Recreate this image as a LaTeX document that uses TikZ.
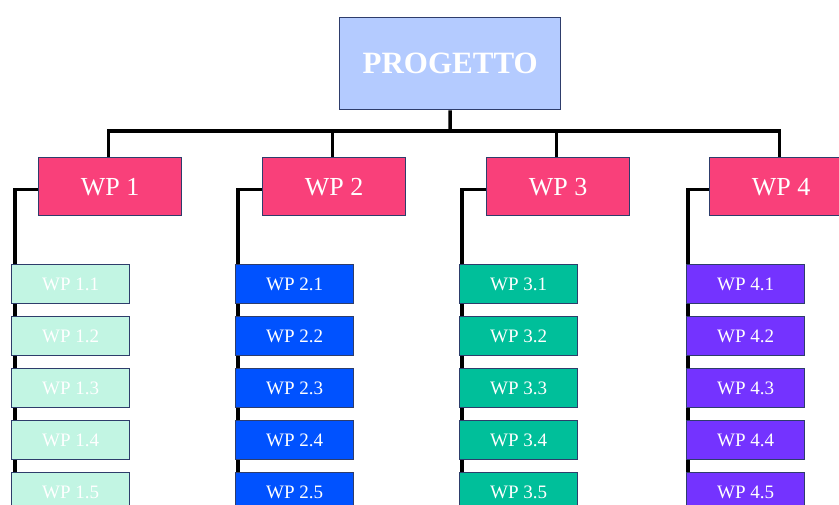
\documentclass[tikz,border=0pt]{standalone}
\usepackage{fontspec}
\setmainfont{Liberation Serif}
\usetikzlibrary{backgrounds}
\definecolor{edgeblue}{HTML}{2E3D6B}
\definecolor{rootfill}{HTML}{B4CBFF}
\definecolor{wpfill}{HTML}{F9407A}
\definecolor{subA}{HTML}{C2F5E3}
\definecolor{subB}{HTML}{0052FF}
\definecolor{subC}{HTML}{00BF9A}
\definecolor{subD}{HTML}{7433FF}
\begin{document}
\begin{tikzpicture}[x=1pt,y=-1pt,
  box/.style={draw=edgeblue, line width=1.4pt, inner sep=0pt, text=white, anchor=north west},
  rootbox/.style={box, fill=rootfill, minimum width=221pt, minimum height=92pt,
    font=\fontsize{31}{31}\selectfont\bfseries},
  wpbox/.style={box, fill=wpfill, minimum width=143pt, minimum height=58pt,
    font=\fontsize{26}{26}\selectfont},
  subbox/.style={box, minimum width=118pt, minimum height=39pt,
    font=\fontsize{19}{19}\selectfont},
  conn/.style={draw=black, line width=3.5pt}]
\useasboundingbox (0,0) rectangle (839,505);

% root
\node[rootbox] (root) at (339,17) {PROGETTO};
\coordinate (hub) at (450,131);

% work packages, sub-packages and their tree lines
\foreach \i/\wx/\sx/\lx/\col in {1/38/11/15/subA, 2/262/235/238/subB, 3/486/459/462/subC, 4/709/686/688/subD}{
  \node[wpbox] (wp\i) at (\wx,157) {WP \i};
  \foreach \j in {1,...,5}{
    \node[subbox, fill=\col] (wp\i-\j) at (\sx,{264+52*(\j-1)}) {WP \i.\j};
  }
  \coordinate (tail\i) at (\lx,520);
  \begin{scope}[on background layer]
    \draw[conn] (hub) -| ([xshift=-1.5pt]wp\i.north);
    \draw[conn] ([yshift=-3pt]wp\i.west) -| (tail\i);
  \end{scope}
}
\begin{scope}[on background layer]
  \draw[conn] (root.south) -- (hub);
\end{scope}
\end{tikzpicture}
\end{document}
